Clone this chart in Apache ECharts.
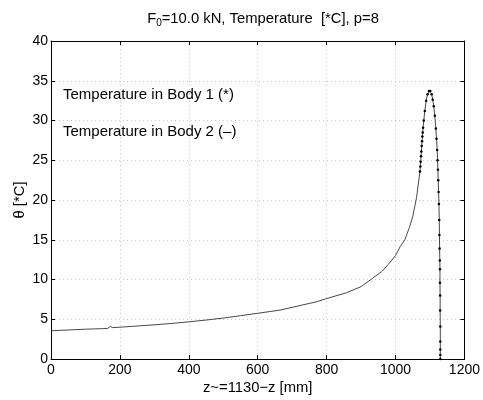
<!DOCTYPE html>
<html>
<head>
<meta charset="utf-8">
<script src="https://cdn.jsdelivr.net/npm/echarts@6/dist/echarts.min.js"></script>
<style>html,body{margin:0;padding:0;background:#fff}#c{width:483px;height:400px}</style>
</head>
<body>
<div id="c"></div>
<script>
// Body 2 (line only)
const body2Z = [0, 50, 100, 150, 165, 172, 178, 200, 250, 300, 350, 400, 450, 500, 550, 600, 665, 700, 771, 800, 858, 900, 930, 960, 979, 1000, 1013, 1027, 1040, 1050, 1061, 1071];
const body2T = [3.55, 3.65, 3.75, 3.82, 3.85, 4.1, 3.95, 4.0, 4.15, 4.3, 4.47, 4.67, 4.9, 5.15, 5.45, 5.75, 6.15, 6.5, 7.2, 7.6, 8.34, 9.1, 10.05, 11.0, 11.9, 13.0, 14.1, 15.0, 16.5, 17.9, 20.3, 23.6];
// Body 1 (markers + line)
const body1Z = [1071, 1072, 1073, 1074, 1075, 1076, 1077, 1078, 1079, 1080, 1082, 1085, 1089, 1093, 1097, 1101, 1105, 1108, 1111, 1114, 1117, 1119, 1121, 1122, 1123, 1124, 1125, 1126, 1127, 1127.5, 1128, 1128.5, 1129, 1129, 1129.5, 1129.5, 1130, 1130, 1130, 1130, 1130];
const body1T = [23.6, 24.2, 24.8, 25.5, 26.1, 26.8, 27.4, 28.0, 28.5, 29.1, 30.0, 31.2, 32.5, 33.3, 33.7, 33.7, 33.3, 32.6, 31.8, 30.6, 29.0, 27.7, 26.3, 25.0, 23.8, 22.5, 21.0, 19.5, 17.5, 15.6, 13.9, 12.4, 11.3, 9.6, 8.0, 6.1, 4.1, 2.2, 1.2, 0.5, 0];
const xTicks = [0, 200, 400, 600, 800, 1000, 1200];
const yTicks = [0, 5, 10, 15, 20, 25, 30, 35, 40];
const titleMain = 'F';
const titleSub = '0';
const titleRest = '=10.0 kN, Temperature  [*C], p=8';
const xLabel = 'z~=1130\u2212z [mm]';
const yLabel = '\u03b8 [*C]';
const note1 = 'Temperature in Body 1 (*)';
const note2 = 'Temperature in Body 2 (\u2013)';

const FONT = '"Liberation Sans", Arial, sans-serif';
const chart = echarts.init(document.getElementById('c'), null, {renderer: 'canvas'});
const axisCommon = {
  axisLine: {show: true, onZero: false, lineStyle: {color: '#000', width: 1}},
  axisTick: {show: true, inside: true, length: 4, lineStyle: {color: '#000'}},
};
chart.setOption({
  animation: false,
  backgroundColor: '#fff',
  title: {
    text: '{m|' + titleMain + '}{s|' + titleSub + '}{m|' + titleRest + '}',
    left: 258, top: 4, textAlign: 'center',
    textStyle: {fontWeight: 'normal', rich: {
      m: {fontFamily: FONT, fontSize: 14.8, fontWeight: 'normal', color: '#000'},
      s: {fontFamily: FONT, fontSize: 10, fontWeight: 'normal', color: '#000', verticalAlign: 'bottom', padding: [9, 0, 0, 0]}
    }}
  },
  grid: {left: 51, right: 18, top: 41, bottom: 36, show: false},
  xAxis: [{
    type: 'value', min: xTicks[0], max: xTicks[xTicks.length - 1], interval: 200,
    position: 'bottom',
    ...axisCommon,
    axisLabel: {color: '#000', fontFamily: FONT, fontSize: 14, margin: 4, formatter: v => String(v)},
    splitLine: {show: true, lineStyle: {color: '#c4c4c4', type: [1, 3], width: 1}},
    name: xLabel, nameLocation: 'middle', nameGap: 21, nameMoveOverlap: false,
    nameTextStyle: {color: '#000', fontFamily: FONT, fontSize: 14.8}
  }, {
    type: 'value', min: xTicks[0], max: xTicks[xTicks.length - 1], interval: 200,
    position: 'top', ...axisCommon, axisLabel: {show: false}, splitLine: {show: false}
  }],
  yAxis: [{
    type: 'value', min: yTicks[0], max: yTicks[yTicks.length - 1], interval: 5,
    position: 'left',
    ...axisCommon,
    axisLabel: {color: '#000', fontFamily: FONT, fontSize: 14, margin: 3, formatter: v => String(v)},
    splitLine: {show: true, lineStyle: {color: '#c4c4c4', type: [1, 3], width: 1}},
    name: yLabel, nameLocation: 'middle', nameGap: 24, nameRotate: 90, nameMoveOverlap: false,
    nameTextStyle: {color: '#000', fontFamily: FONT, fontSize: 14.8}
  }, {
    type: 'value', min: yTicks[0], max: yTicks[yTicks.length - 1], interval: 5,
    position: 'right', ...axisCommon, axisLabel: {show: false}, splitLine: {show: false}
  }],
  graphic: [
    {type: 'text', left: 63, top: 87, style: {text: note1, font: '15px ' + FONT, fill: '#000'}},
    {type: 'text', left: 63, top: 124, style: {text: note2, font: '15px ' + FONT, fill: '#000'}}
  ],
  series: [{
    name: 'Body 2', type: 'line', showSymbol: false, symbol: 'none',
    data: body2Z.map((z, i) => [z, body2T[i]]),
    lineStyle: {color: '#333', width: 0.9}
  }, {
    name: 'Body 1', type: 'line', symbol: 'circle', symbolSize: 2.5, showSymbol: true,
    data: body1Z.map((z, i) => [z, body1T[i]]),
    itemStyle: {color: '#000'},
    lineStyle: {color: '#333', width: 0.9}
  }]
});
</script>
</body>
</html>
